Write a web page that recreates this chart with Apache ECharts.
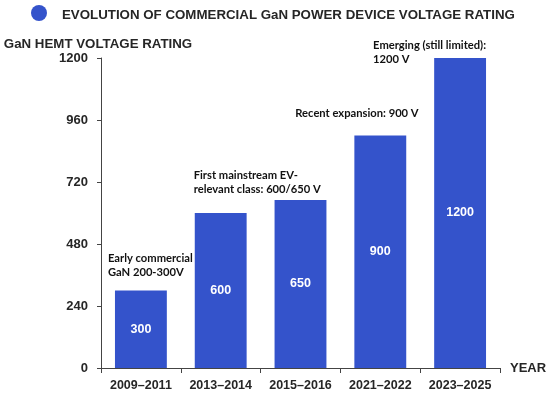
<!DOCTYPE html>
<html>
<head>
<meta charset="utf-8">
<script src="https://cdn.jsdelivr.net/npm/echarts@6/dist/echarts.min.js"></script>
<style>html,body{margin:0;padding:0;background:#fff}#c{width:550px;height:393px}</style>
</head>
<body>
<div id="c"></div>
<script>
const categories = ['2009–2011', '2013–2014', '2015–2016', '2021–2022', '2023–2025'];
const voltages = [300, 600, 650, 900, 1200];
const yTicks = { min: 0, max: 1200, interval: 240 };
const annotationIndex = [0, 1, 3, 4];
const annotationText = [
  'Early commercial\nGaN 200-300V',
  'First mainstream EV-\nrelevant class: 600/650 V',
  'Recent expansion: 900 V',
  'Emerging (still limited):\n1200 V'
];
const titleText = 'EVOLUTION OF COMMERCIAL GaN POWER DEVICE VOLTAGE RATING';
const yName = 'GaN HEMT VOLTAGE RATING';
const xName = 'YEAR';

// styling offsets for annotations (pixels from bar-top centre)
const annOffsets = [[-33, -39], [-27, -45], [-85, -29], [-87, -20]];

const BLUE = '#3453CB';
const AX = 'Liberation Sans, Arial, sans-serif';
const chart = echarts.init(document.getElementById('c'));
chart.setOption({
  animation: false,
  backgroundColor: '#fff',
  title: {
    text: titleText, left: 57, top: 4,
    textStyle: { fontFamily: AX, fontWeight: 'bold', fontSize: 13.3, color: '#262626' }
  },
  graphic: [{ type: 'circle', shape: { cx: 39, cy: 13, r: 8 }, style: { fill: BLUE } }],
  grid: { left: 101, right: 50, top: 58, bottom: 25 },
  xAxis: {
    type: 'category', data: categories,
    name: xName, nameLocation: 'end', nameGap: 10,
    nameTextStyle: { fontFamily: AX, fontWeight: 'bold', fontSize: 13, color: '#262626', verticalAlign: 'middle' },
    axisLine: { lineStyle: { color: '#444', width: 1 } },
    axisTick: { show: true, length: 5, alignWithLabel: false, lineStyle: { color: '#444' } },
    axisLabel: { interval: 0, fontFamily: AX, fontWeight: 'bold', fontSize: 12.5, color: '#262626', margin: 11 }
  },
  yAxis: {
    type: 'value', min: yTicks.min, max: yTicks.max, interval: yTicks.interval,
    name: yName, nameLocation: 'end', nameGap: 14,
    nameTextStyle: { fontFamily: AX, fontWeight: 'bold', fontSize: 13.3, color: '#262626', align: 'center', verticalAlign: 'middle', padding: [0, 6, 0, 0] },
    axisLine: { show: true, lineStyle: { color: '#444', width: 1 } },
    axisTick: { show: true, length: 4, lineStyle: { color: '#444' } },
    splitLine: { show: false },
    axisLabel: { formatter: (v) => String(v), fontFamily: AX, fontWeight: 'bold', fontSize: 13, color: '#262626', margin: 13 }
  },
  series: [{
    type: 'bar', data: voltages, barCategoryGap: '35%',
    itemStyle: { color: BLUE },
    label: { show: true, position: 'inside', color: '#fff', fontFamily: AX, fontWeight: 'bold', fontSize: 12.5 },
    markPoint: {
      symbol: 'circle', symbolSize: 0, silent: true,
      data: annotationIndex.map((ci, k) => ({
        coord: [ci, voltages[ci]],
        label: {
          show: true, formatter: annotationText[k],
          position: annOffsets[k], align: 'left', verticalAlign: 'top',
          fontFamily: 'Lato, Open Sans, sans-serif', fontWeight: 'bold', fontSize: 11.2, lineHeight: 14, color: '#111'
        }
      }))
    }
  }]
});
</script>
</body>
</html>
